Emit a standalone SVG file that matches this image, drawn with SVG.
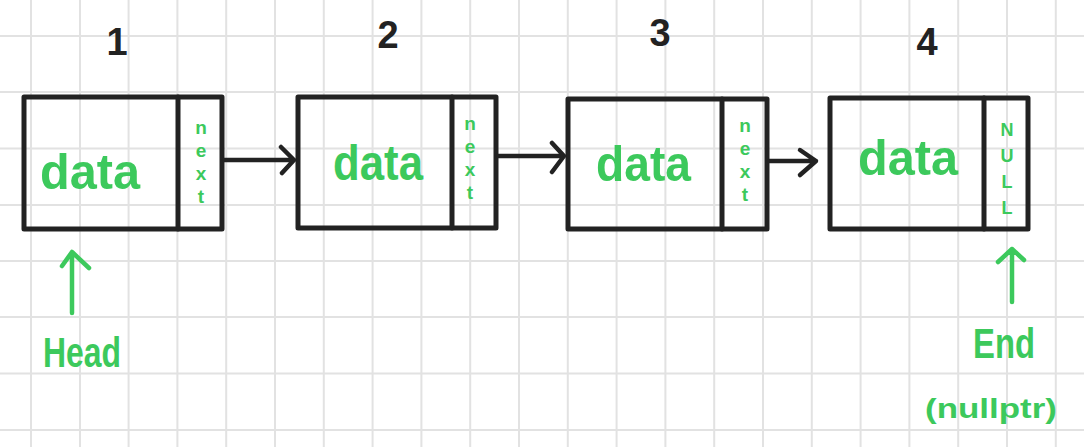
<svg xmlns="http://www.w3.org/2000/svg" width="1084" height="447" viewBox="0 0 1084 447">
<style>
.grid line{stroke:#e2e2e2;stroke-width:2}
.box{fill:none;stroke:#222;stroke-width:5;stroke-linejoin:round;stroke-linecap:round}
.con{fill:none;stroke:#222;stroke-width:4.5;stroke-linecap:round;stroke-linejoin:round}
.gcon{fill:none;stroke:#3cc95c;stroke-width:4.5;stroke-linecap:round;stroke-linejoin:round}
.num{font-family:"Liberation Sans",Arial,sans-serif;font-size:38px;fill:#222;text-anchor:middle;font-weight:bold}
.data{font-family:"Liberation Sans",Arial,sans-serif;font-size:50px;fill:#3cc95c;font-weight:bold}
.col{font-family:"Liberation Sans",Arial,sans-serif;font-size:19px;fill:#3cc95c;font-weight:bold;text-anchor:middle}
.lbl{font-family:"Liberation Sans",Arial,sans-serif;fill:#3cc95c;font-weight:bold;text-anchor:middle}
</style>
<rect width="1084" height="447" fill="#ffffff"/>
<g class="grid">
<line x1="31" y1="0" x2="31" y2="447"/><line x1="80" y1="0" x2="80" y2="447"/><line x1="128.6" y1="0" x2="128.6" y2="447"/><line x1="177.4" y1="0" x2="177.4" y2="447"/><line x1="226.2" y1="0" x2="226.2" y2="447"/><line x1="275" y1="0" x2="275" y2="447"/><line x1="323.8" y1="0" x2="323.8" y2="447"/><line x1="372.6" y1="0" x2="372.6" y2="447"/><line x1="421.4" y1="0" x2="421.4" y2="447"/><line x1="470.2" y1="0" x2="470.2" y2="447"/><line x1="519" y1="0" x2="519" y2="447"/><line x1="567.8" y1="0" x2="567.8" y2="447"/><line x1="616.6" y1="0" x2="616.6" y2="447"/><line x1="665.4" y1="0" x2="665.4" y2="447"/><line x1="714.2" y1="0" x2="714.2" y2="447"/><line x1="763" y1="0" x2="763" y2="447"/><line x1="811.8" y1="0" x2="811.8" y2="447"/><line x1="860.6" y1="0" x2="860.6" y2="447"/><line x1="909.4" y1="0" x2="909.4" y2="447"/><line x1="958.2" y1="0" x2="958.2" y2="447"/><line x1="1007" y1="0" x2="1007" y2="447"/><line x1="1055.8" y1="0" x2="1055.8" y2="447"/>
<line x1="0" y1="36" x2="1084" y2="36"/><line x1="0" y1="92" x2="1084" y2="92"/><line x1="0" y1="148.5" x2="1084" y2="148.5"/><line x1="0" y1="205" x2="1084" y2="205"/><line x1="0" y1="261" x2="1084" y2="261"/><line x1="0" y1="317" x2="1084" y2="317"/><line x1="0" y1="373.5" x2="1084" y2="373.5"/><line x1="0" y1="430" x2="1084" y2="430"/>
</g>
<g id="node1">
<text class="num" x="117" y="55">1</text>
<rect class="box" x="24" y="97" width="198" height="132"/>
<line class="box" x1="178" y1="97" x2="178" y2="229"/>
<text class="data" x="40" y="189" textLength="100" lengthAdjust="spacingAndGlyphs">data</text>
<text class="col" x="201" y="134">n</text>
<text class="col" x="201" y="157">e</text>
<text class="col" x="201" y="180">x</text>
<text class="col" x="201" y="203">t</text>
</g>
<g id="node2">
<text class="num" x="388" y="48">2</text>
<rect class="box" x="298" y="97" width="198" height="131"/>
<line class="box" x1="452" y1="97" x2="452" y2="228"/>
<text class="data" x="333" y="180" textLength="90" lengthAdjust="spacingAndGlyphs">data</text>
<text class="col" x="470" y="130">n</text>
<text class="col" x="470" y="153">e</text>
<text class="col" x="470" y="176">x</text>
<text class="col" x="470" y="199">t</text>
</g>
<g id="node3">
<text class="num" x="660" y="46">3</text>
<rect class="box" x="568" y="99" width="199" height="130"/>
<line class="box" x1="722" y1="99" x2="722" y2="229"/>
<text class="data" x="596" y="181" textLength="95" lengthAdjust="spacingAndGlyphs">data</text>
<text class="col" x="745" y="132">n</text>
<text class="col" x="745" y="155">e</text>
<text class="col" x="745" y="178">x</text>
<text class="col" x="745" y="201">t</text>
</g>
<g id="node4">
<text class="num" x="927" y="55">4</text>
<rect class="box" x="830" y="98" width="198" height="131"/>
<line class="box" x1="984" y1="98" x2="984" y2="229"/>
<text class="data" x="858" y="175" textLength="100" lengthAdjust="spacingAndGlyphs">data</text>
<text class="col" x="1007" y="136" style="font-size:18px">N</text>
<text class="col" x="1007" y="162" style="font-size:18px">U</text>
<text class="col" x="1007" y="188" style="font-size:18px">L</text>
<text class="col" x="1007" y="214" style="font-size:18px">L</text>
</g>
<g id="head">
<text class="lbl" x="82" y="367" style="font-size:42px" textLength="78" lengthAdjust="spacingAndGlyphs">Head</text>
</g>
<g id="end">
<text class="lbl" x="1004" y="358" style="font-size:42px" textLength="62" lengthAdjust="spacingAndGlyphs">End</text>
<text class="lbl" x="991" y="418" style="font-size:28px" textLength="132" lengthAdjust="spacingAndGlyphs">(nullptr)</text>
</g>
<g id="connectors">
<path class="con" d="M224 160 H294 M281 147 L294 160 L282 173"/>
<path class="con" d="M498 156 H564 M552 143 L564 156 L552 172"/>
<path class="con" d="M769 161 H816 M800 150 L816 161 L800 175"/>
<path class="gcon" d="M72 313 V252 M62 266 L72 252 L89 268"/>
<path class="gcon" d="M1012 302 V249 M998 262 L1012 249 L1024 260"/>
</g>
</svg>
